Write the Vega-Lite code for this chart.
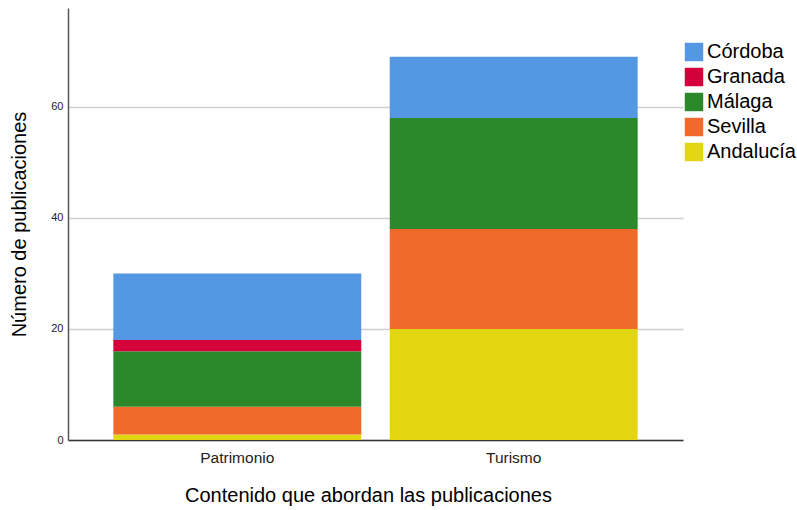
{
  "$schema": "https://vega.github.io/schema/vega-lite/v6.json",
  "width": 615,
  "height": 432,
  "autosize": {"type": "none"},
  "padding": {"left": 68, "top": 8, "right": 114, "bottom": 70},
  "background": "white",
  "config": {
    "font": "Liberation Sans",
    "view": {"stroke": null}
  },
  "data": {
    "values": [
      {"contenido": "Patrimonio", "provincia": "Andalucía", "orden": 1, "n": 1},
      {"contenido": "Patrimonio", "provincia": "Sevilla", "orden": 2, "n": 5},
      {"contenido": "Patrimonio", "provincia": "Málaga", "orden": 3, "n": 10},
      {"contenido": "Patrimonio", "provincia": "Granada", "orden": 4, "n": 2},
      {"contenido": "Patrimonio", "provincia": "Córdoba", "orden": 5, "n": 12},
      {"contenido": "Turismo", "provincia": "Andalucía", "orden": 1, "n": 20},
      {"contenido": "Turismo", "provincia": "Sevilla", "orden": 2, "n": 18},
      {"contenido": "Turismo", "provincia": "Málaga", "orden": 3, "n": 20},
      {"contenido": "Turismo", "provincia": "Córdoba", "orden": 5, "n": 11}
    ]
  },
  "mark": {"type": "bar"},
  "encoding": {
    "x": {
      "field": "contenido",
      "type": "nominal",
      "scale": {"paddingInner": 0.103, "paddingOuter": 0.164},
      "axis": {
        "title": "Contenido que abordan las publicaciones",
        "titleFontSize": 20,
        "titleFontWeight": "normal",
        "titleColor": "#000",
        "titlePadding": 20,
        "titleX": 300,
        "labelAngle": 0,
        "labelFontSize": 15.5,
        "labelColor": "#222",
        "labelPadding": 10,
        "ticks": false,
        "domainColor": "#333",
        "domainWidth": 1.5
      }
    },
    "y": {
      "field": "n",
      "type": "quantitative",
      "aggregate": "sum",
      "stack": "zero",
      "scale": {"domain": [0, 77.8], "nice": false},
      "axis": {
        "title": "Número de publicaciones",
        "titleFontSize": 20,
        "titleFontWeight": "normal",
        "titleColor": "#000",
        "titlePadding": 21,
        "values": [0, 20, 40, 60],
        "labelFontSize": 11,
        "labelColor": "#222",
        "labelPadding": 5,
        "ticks": false,
        "domainColor": "#555",
        "domainWidth": 1.5,
        "gridColor": "#cfcfcf",
        "gridWidth": 1.5
      }
    },
    "color": {
      "field": "provincia",
      "type": "nominal",
      "scale": {
        "domain": ["Córdoba", "Granada", "Málaga", "Sevilla", "Andalucía"],
        "range": ["#5497E3", "#D3003A", "#2B882B", "#EF6A2B", "#E2D612"]
      },
      "legend": {
        "title": null,
        "orient": "none",
        "legendX": 616,
        "legendY": 34,
        "symbolType": "square",
        "symbolSize": 340,
        "symbolStrokeWidth": 0,
        "symbolOpacity": 1,
        "labelFontSize": 20,
        "labelColor": "#000",
        "labelOffset": 3,
        "rowPadding": 5,
        "labelLimit": 200
      }
    },
    "order": {"field": "orden", "type": "quantitative", "sort": "ascending"}
  }
}
